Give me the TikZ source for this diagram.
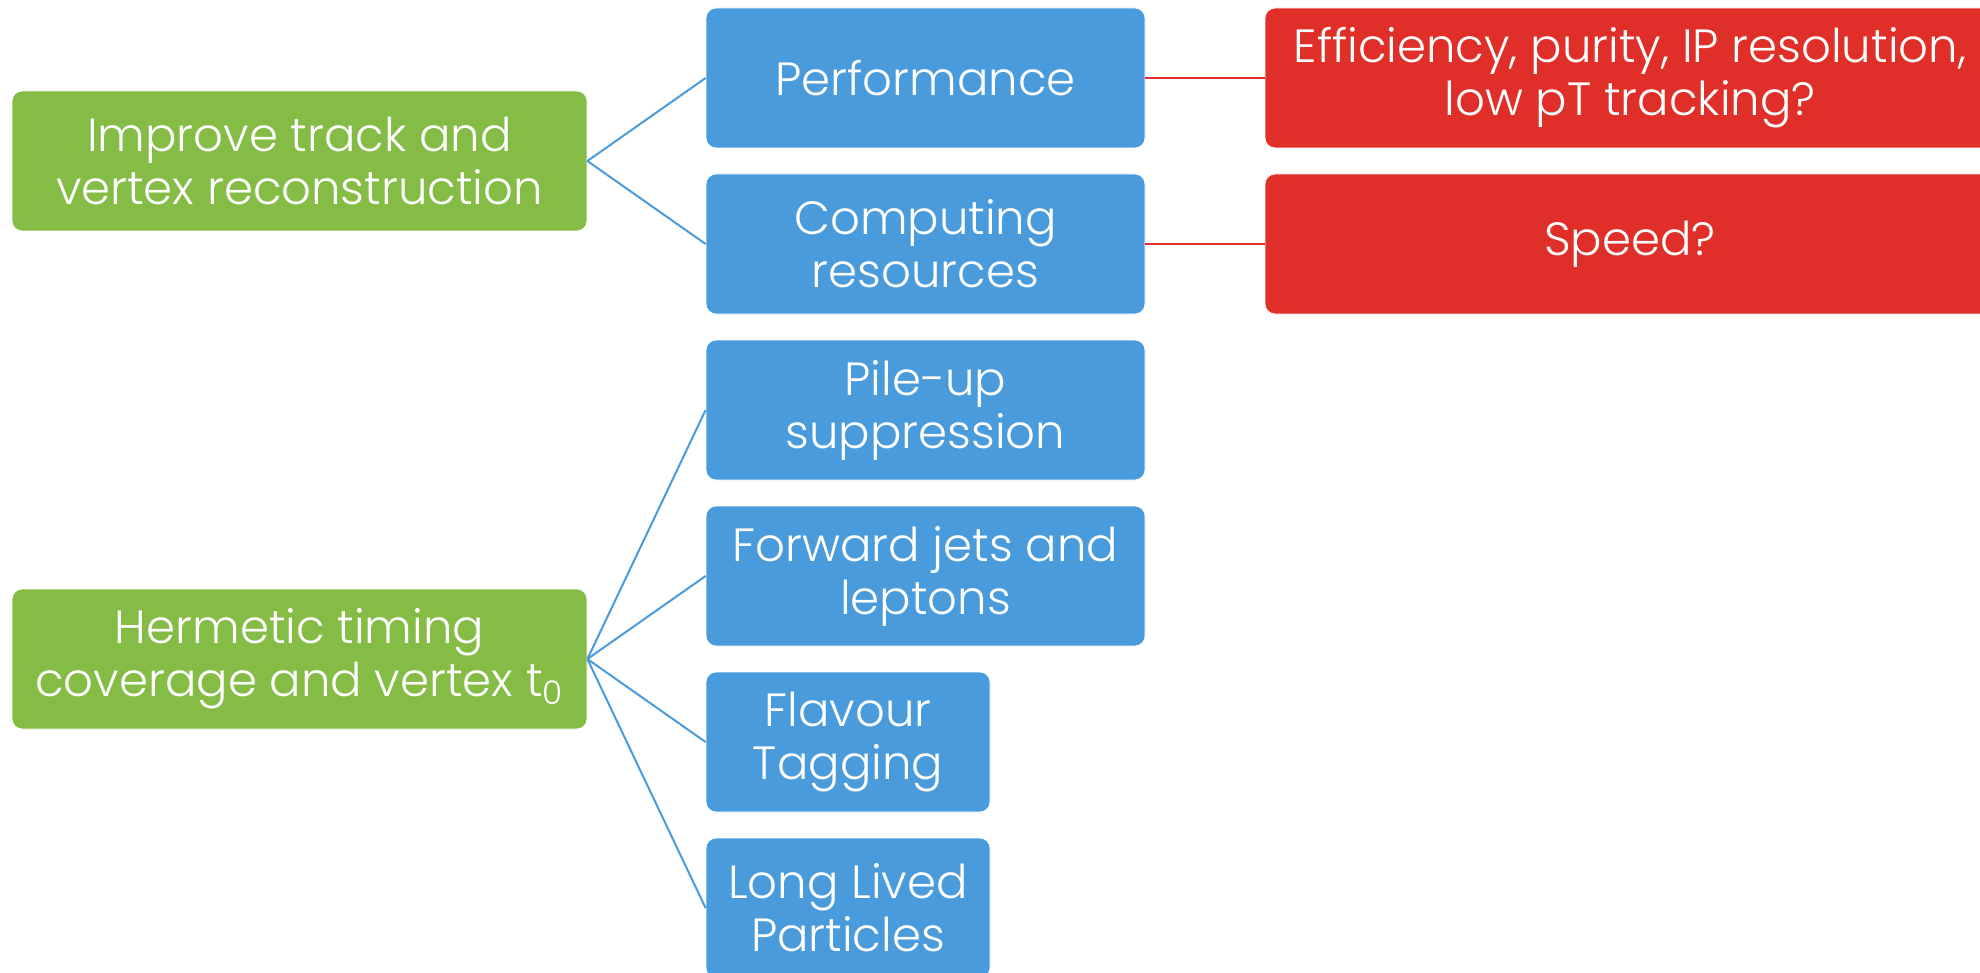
\documentclass[tikz,border=0pt]{standalone}
\usepackage{fontspec}
\setmainfont{Poppins}[UprightFont={* Light}]
\definecolor{tgreen}{RGB}{132,188,69}
\definecolor{tblue}{RGB}{74,155,220}
\definecolor{tred}{RGB}{224,46,40}
\begin{document}
\begin{tikzpicture}[x=0.5pt,y=-0.5pt,
  box/.style={rounded corners=5pt, text=white, align=center, inner sep=0pt,
    minimum height=70pt, draw=white, line width=0.4pt,
    font=\fontsize{23.3}{26.5}\selectfont},
  gbox/.style={box, fill=tgreen, minimum width=287.5pt},
  bbox/.style={box, fill=tblue, minimum width=219.5pt},
  sbox/.style={box, fill=tblue, minimum width=142pt},
  rbox/.style={box, fill=tred, minimum width=365pt},
  bline/.style={draw=tblue, line width=1pt},
  rline/.style={draw=tred, line width=1pt}]
\useasboundingbox (0,0) rectangle (1980,973);
\clip (0,0) rectangle (1980,973);
\node[gbox] (g1) at (299.5,161) {Improve track and\\vertex reconstruction};
\node[gbox] (g2) at (299.5,659) {Hermetic timing\\coverage and vertex t\textsubscript{0}};
\node[bbox] (b1) at (925.5,78) {Performance};
\node[bbox] (b2) at (925.5,244) {Computing\\resources};
\node[bbox] (b3) at (925.5,410) {Pile-up\\suppression};
\node[bbox] (b4) at (925.5,576) {Forward jets and\\leptons};
\node[sbox] (b5) at (848,742) {Flavour\\Tagging};
\node[sbox] (b6) at (848,908) {Long Lived\\Particles};
\node[rbox] (r1) at (1630,78) {Efficiency, purity, IP resolution,\\low pT tracking?};
\node[rbox] (r2) at (1630,244) {Speed?};
\draw[bline] (g1.east) -- (b1.west);
\draw[bline] (g1.east) -- (b2.west);
\draw[bline] (g2.east) -- (b3.west);
\draw[bline] (g2.east) -- (b4.west);
\draw[bline] (g2.east) -- (b5.west);
\draw[bline] (g2.east) -- (b6.west);
\draw[rline] (b1.east) -- (r1.west);
\draw[rline] (b2.east) -- (r2.west);
\end{tikzpicture}
\end{document}
